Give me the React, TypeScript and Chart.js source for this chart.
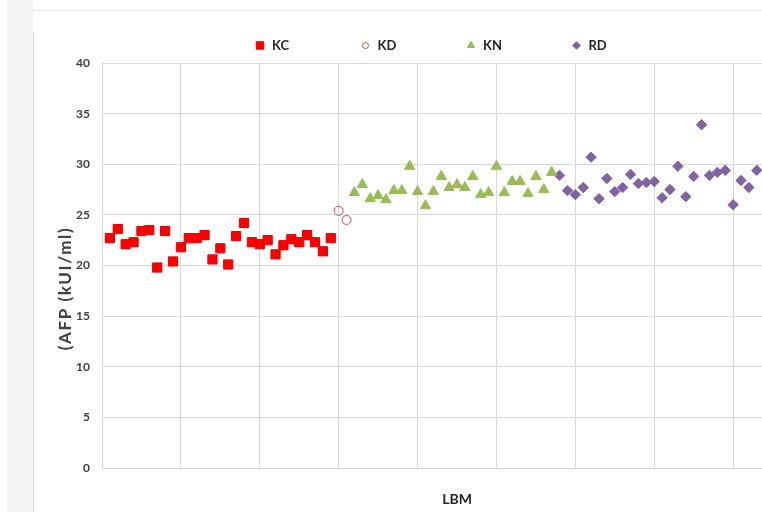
import React, { useEffect, useRef } from "react";
import { Chart, registerables } from "chart.js";
import { drawPoint } from "chart.js/helpers";

Chart.register(...registerables);

// ---- data ----
const seriesNames = ["KC", "KD", "KN", "RD"];
const firstSample = [1, 30, 32, 58];

const kcValues = [
  22.7, 23.6, 22.1, 22.3, 23.4, 23.5, 19.8, 23.4, 20.4, 21.8,
  22.7, 22.7, 23.0, 20.6, 21.7, 20.1, 22.9, 24.2, 22.3, 22.1,
  22.5, 21.1, 22.0, 22.6, 22.3, 23.0, 22.3, 21.4, 22.7,
];
const kdValues = [25.4, 24.5];
const knValues = [
  27.2, 28.0, 26.6, 26.9, 26.5, 27.4, 27.4, 29.8, 27.3, 25.9,
  27.3, 28.8, 27.7, 28.0, 27.7, 28.8, 27.0, 27.2, 29.8, 27.2,
  28.3, 28.3, 27.1, 28.8, 27.5, 29.2,
];
const rdValues = [
  28.9, 27.4, 27.0, 27.7, 30.7, 26.6, 28.6, 27.3, 27.7, 29.0,
  28.1, 28.2, 28.3, 26.7, 27.5, 29.8, 26.8, 28.8, 33.9, 28.9,
  29.2, 29.4, 26.0, 28.4, 27.7, 29.4,
];
const yTickValues = [0, 5, 10, 15, 20, 25, 30, 35, 40];
const xGridSteps = [0, 10, 20, 30, 40, 50, 60, 70, 80, 90];
const yTitle = "(AFP (kUI/ml)";
const xTitle = "LBM";

// ---- styles ----
const FONT = "Lato, 'Open Sans', sans-serif";
const TEXT = "#404040";
const GRID = "#d9d9d9";

const styles = [
  { pointStyle: "rect", radius: 6.5, bg: "#ff0000", border: "#e00000", bw: 1, legendR: 5.3 },
  { pointStyle: "circle", radius: 4.5, bg: "rgba(255,255,255,0)", border: "#c0504d", bw: 1, legendR: 3 },
  { pointStyle: "triangle", radius: 6, bg: "#9bbb59", border: "#9bbb59", bw: 1, legendR: 4.2 },
  { pointStyle: "rectRot", radius: 5.2, bg: "#8064a2", border: "#8064a2", bw: 1, legendR: 3.8 },
];

const allValues = [kcValues, kdValues, knValues, rdValues];

const legendPlugin = {
  id: "topLegend",
  afterDraw(chart: any) {
    const ctx = chart.ctx as CanvasRenderingContext2D;
    const { left, right } = chart.chartArea;
    const cx = (left + right) / 2;
    const spacing = 105.5;
    const first = cx - 197;
    const my = 45.5;
    chart.data.datasets.forEach((ds: any, i: number) => {
      const mx = first + i * spacing;
      const st = styles[i];
      ctx.save();
      ctx.fillStyle = st.bg;
      ctx.strokeStyle = st.border;
      ctx.lineWidth = st.bw;
      drawPoint(ctx, { pointStyle: st.pointStyle as any, radius: st.legendR, borderWidth: st.bw, rotation: 0 }, mx, my);
      ctx.fillStyle = "#262626";
      ctx.font = `bold 13px ${FONT}`;
      ctx.textBaseline = "middle";
      ctx.textAlign = "left";
      ctx.fillText(ds.label, mx + 12, my + 0.5);
      ctx.restore();
    });
  },
};

export default function App() {
  const ref = useRef<HTMLCanvasElement | null>(null);

  useEffect(() => {
    if (!ref.current) return;
    const datasets = seriesNames.map((name, i) => ({
      label: name,
      data: allValues[i].map((v, k) => ({ x: firstSample[i] + k, y: v })),
      pointStyle: styles[i].pointStyle as any,
      pointRadius: styles[i].radius,
      pointHoverRadius: styles[i].radius,
      pointBackgroundColor: styles[i].bg,
      pointBorderColor: styles[i].border,
      pointBorderWidth: styles[i].bw,
      showLine: false,
    }));
    const chart = new Chart(ref.current, {
      type: "scatter",
      data: { datasets },
      plugins: [legendPlugin],
      options: {
        animation: false,
        responsive: false,
        maintainAspectRatio: false,
        devicePixelRatio: 1,
        layout: { padding: { left: 0, right: 18, top: 63, bottom: 0 } },
        plugins: { legend: { display: false }, tooltip: { enabled: false } },
        scales: {
          x: {
            type: "linear",
            min: xGridSteps[0],
            max: xGridSteps[xGridSteps.length - 1],
            afterBuildTicks: (s: any) => {
              s.ticks = xGridSteps.map((v) => ({ value: v }));
            },
            ticks: { display: false },
            grid: { color: GRID, lineWidth: 1, drawTicks: false },
            border: { color: GRID, width: 1 },
            title: {
              display: true,
              text: xTitle,
              color: "#262626",
              font: { family: FONT, size: 14, weight: "bold" },
              padding: { top: 0, bottom: 4 },
            },
            afterFit: (s: any) => {
              s.height = 44;
            },
          },
          y: {
            min: yTickValues[0],
            max: yTickValues[yTickValues.length - 1],
            afterBuildTicks: (s: any) => {
              s.ticks = yTickValues.map((v) => ({ value: v }));
            },
            ticks: {
              color: TEXT,
              padding: 12,
              font: { family: FONT, size: 12, weight: "bold" },
            },
            grid: { color: GRID, lineWidth: 1, drawTicks: false },
            border: { color: GRID, width: 1 },
            title: {
              display: true,
              text: yTitle,
              color: TEXT,
              font: { family: FONT, size: 17, weight: "bold" },
              padding: { top: 55, bottom: 0 },
            },
            afterFit: (s: any) => {
              s.width = 102;
              if (!s._titlePatched) {
                const orig = s.drawTitle.bind(s);
                s.drawTitle = function () {
                  const c = this.ctx as any;
                  c.save();
                  c.letterSpacing = "1.6px";
                  c.translate(0, 23);
                  orig();
                  c.restore();
                };
                s._titlePatched = true;
              }
            },
          },
        },
      },
    });
    return () => chart.destroy();
  }, []);

  return (
    <div
      style={{
        position: "fixed",
        left: 0,
        top: 0,
        width: 762,
        height: 512,
        overflow: "hidden",
        background: "#ffffff",
      }}
    >
      <div style={{ position: "absolute", left: 7, top: 0, width: 26, height: 512, background: "#f3f3f3" }} />
      <div style={{ position: "absolute", left: 33, top: 10, width: 729, height: 1, background: "#e6e6e6" }} />
      <div style={{ position: "absolute", left: 33, top: 32, width: 1, height: 480, background: "#d4d4d4" }} />
      <canvas
        ref={ref}
        width={830}
        height={512}
        style={{ position: "absolute", left: 0, top: 0, width: 830, height: 512 }}
      />
    </div>
  );
}
